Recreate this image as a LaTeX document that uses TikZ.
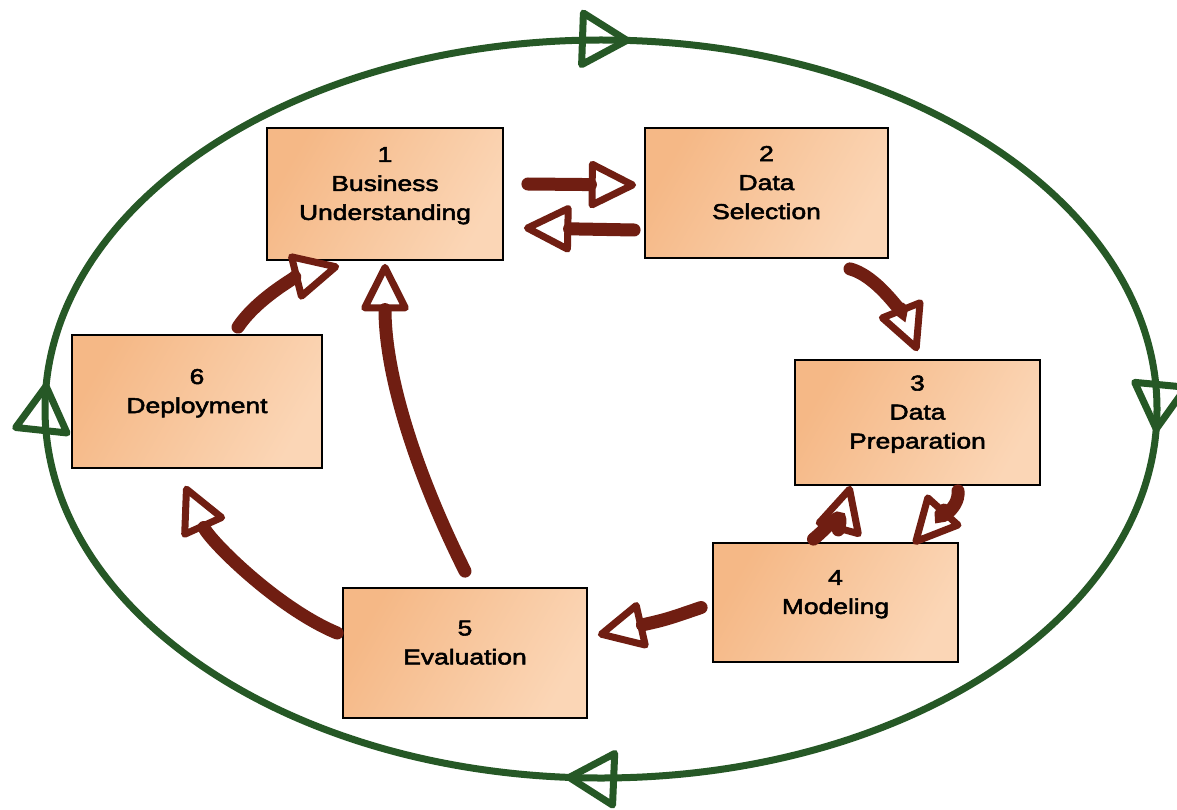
\documentclass[tikz,border=0pt]{standalone}
\usepackage{fontspec}
\newfontfamily\boxfont[FakeStretch=1.23,FakeBold=2.5]{Liberation Sans}
\usetikzlibrary{arrows.meta,decorations.markings,calc}
\definecolor{loopgreen}{RGB}{38,88,38}
\definecolor{flowbrown}{RGB}{112,30,18}
\definecolor{boxdark}{RGB}{245,184,134}
\definecolor{boxlight}{RGB}{251,214,182}

\tikzset{looptip/.tip={Triangle[open,round,length=55pt,width=62pt,line width=7pt]}}

\begin{document}
\begin{tikzpicture}[x=1pt,y=-1pt,
  phase/.style={draw=black, line width=1.8pt, shading=axis, left color=boxdark, right color=boxlight,
    shading angle=60, align=center, inner sep=0pt, font=\boxfont\fontsize{21.5}{29}\selectfont},
  flow/.style={flowbrown, line width=13pt, line cap=round,
    -{Triangle[open,round,length=52pt,width=50pt,line width=7pt]}},
]
\fill[white] (0,0) rectangle (1177,810);
\useasboundingbox (0,0) rectangle (1177,810);

% outer cycle
\draw[loopgreen, line width=7pt, postaction={decorate},
  decoration={markings,
    mark=at position 0.008 with {\arrow{looptip}},
    mark=at position 0.262 with {\arrow{looptip}},
    mark=at position 0.509 with {\arrow{looptip}},
    mark=at position 0.760 with {\arrow{looptip}}}]
  (601,409) ++(556,0) arc[start angle=0, end angle=360, x radius=556, y radius=369];

% phases
\node[phase, minimum width=236pt, minimum height=132pt] (n1) at (385,194) {1\\Business\\Understanding\\[-8pt]};
\node[phase, minimum width=243pt, minimum height=130pt] (n2) at (766.5,193) {2\\Data\\Selection\\[-8pt]};
\node[phase, minimum width=245pt, minimum height=125pt] (n3) at (917.5,422.5) {3\\Data\\Preparation\\[-8pt]};
\node[phase, minimum width=245pt, minimum height=119pt] (n4) at (835.5,602.5) {4\\Modeling\\[-8pt]};
\node[phase, minimum width=244pt, minimum height=130pt] (n5) at (465,653) {5\\Evaluation\\[-8pt]};
\node[phase, minimum width=250pt, minimum height=133pt] (n6) at (197,401.5) {6\\Deployment\\[-8pt]};

% transitions
\draw[flow] ($(n1.east)+(24,-10)$) -- ($(n2.west)+(-8,-8)$);
\draw[flow] ($(n2.west)+(-10,37)$) -- ($(n1.east)+(20,34)$);
\draw[flow] ($(n2.south)+(83.5,10)$) .. controls +(30,8) and +(-12,-30) .. ($(n3.north)+(0,-8)$);
\draw[flow] ($(n3.south)+(40.5,5)$) .. controls +(2,20) and +(18,-20) .. ($(n4.north)+(78,2)$);
\draw[flow] ($(n4.north)+(-22,-3)$) .. controls +(15,-12) and +(-5,18) .. ($(n3.south)+(-67,0)$);
\draw[flow] ($(n4.west)+(-11,5)$) .. controls +(-35,12) .. ($(n5.east)+(10,-18)$);
\draw[flow] ($(n5.north)+(0,-16)$) .. controls +(-50,-100) and +(0,110) .. ($(n1.south)+(0,3)$);
\draw[flow] ($(n5.west)+(-5,-20)$) .. controls +(-60,-25) and +(25,55) .. ($(n6.south)+(-12,17)$);
\draw[flow] ($(n6.north)+(41,-7)$) .. controls +(20,-30) and +(-40,10) .. ($(n1.south west)+(73,5)$);
\end{tikzpicture}
\end{document}
